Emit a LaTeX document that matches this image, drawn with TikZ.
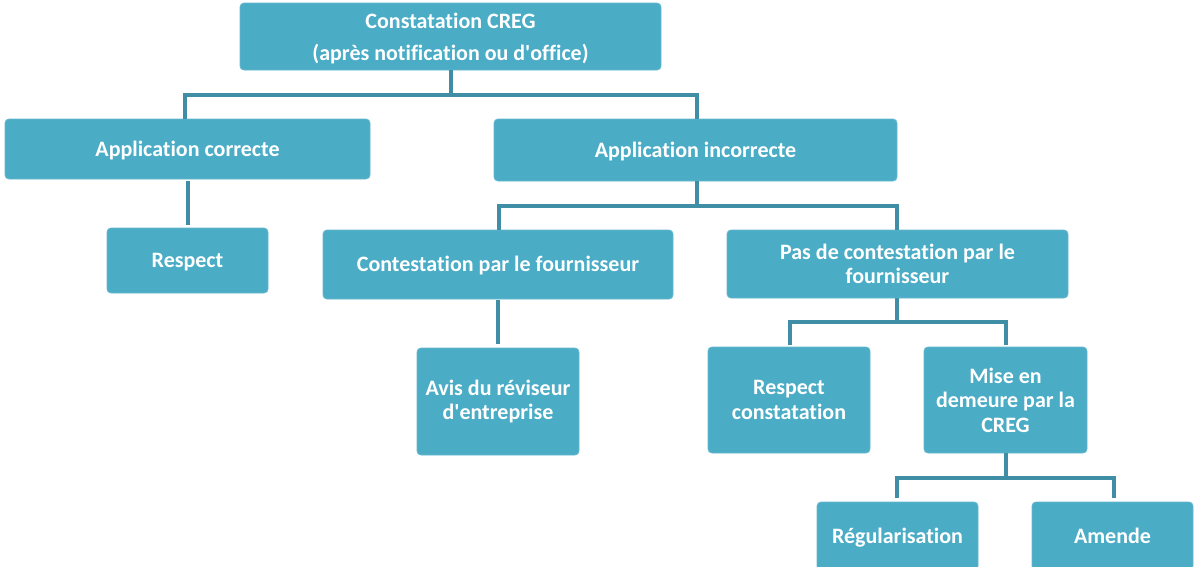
\documentclass[tikz,border=0pt]{standalone}
\usepackage{fontspec}
\setmainfont{Carlito}[Ligatures={NoCommon}]
\begin{document}
\begin{tikzpicture}[x=1pt,y=-1pt,
  box/.style={fill=boxfill, draw=boxfill!85!white, line width=0.8pt, rounded corners=4pt,
    text=white, align=center, inner sep=0pt,
    font=\fontsize{22}{24.5}\selectfont\bfseries},
  oneline/.style={text height=18pt, text depth=4pt},
  link/.style={draw=linkcol, line width=4pt}]
\definecolor{boxfill}{HTML}{4BACC6}
\definecolor{linkcol}{HTML}{3F8EA5}
\useasboundingbox (0,0) rectangle (1195,566);

% boxes: corner-to-corner rectangles with a centred label node
\newcommand{\cbox}[7][]{%
  \path[box] (#3,#4) rectangle (#5,#6);
  \node[box, fill=none, draw=none, #1] (#2) at ({(#3+#5)/2},{(#4+#6)/2}) {#7};}

\cbox[yshift=-2pt]{top}{240}{3}{661}{70}{Constatation CREG\\[7pt](après notification ou d\textquotesingle office)}
\cbox[oneline]{ac}{5}{119}{370}{179}{Application correcte}
\cbox[oneline]{ai}{494}{119}{897}{181}{Application incorrecte}
\cbox[oneline]{resp}{107}{228}{268}{293}{Respect}
\cbox[oneline]{cf}{323}{230}{673}{299}{Contestation par le fournisseur}
\cbox{pcf}{727}{230}{1068}{298}{Pas de contestation par le\\fournisseur}
\cbox{avis}{417}{348}{579}{455}{Avis du réviseur\\d\textquotesingle entreprise}
\cbox{rc}{708}{347}{870}{453}{Respect\\constatation}
\cbox{mise}{924}{347}{1087}{453}{Mise en\\demeure par la\\CREG}
\cbox[oneline]{reg}{817}{502}{978}{570}{Régularisation}
\cbox[oneline]{am}{1032}{502}{1193}{570}{Amende}

% connectors
\coordinate (topj) at (451,95);
\draw[link] (451,70) -- (topj);
\draw[link] (185,119) |- (topj) -| (697,119);
\draw[link] (188,181) -- (188,225);

\coordinate (aij) at (697,206);
\draw[link] (697,181) -- (aij);
\draw[link] (499,230) |- (aij) -| (897,230);
\draw[link] (498,300) -- (498,344);

\coordinate (pcfj) at (897,322);
\draw[link] (897,298) -- (pcfj);
\draw[link] (790,345) |- (pcfj) -| (1006,345);

\coordinate (misej) at (1006,478);
\draw[link] (1006,453) -- (misej);
\draw[link] (897,498) |- (misej) -| (1114,498);
\end{tikzpicture}
\end{document}
